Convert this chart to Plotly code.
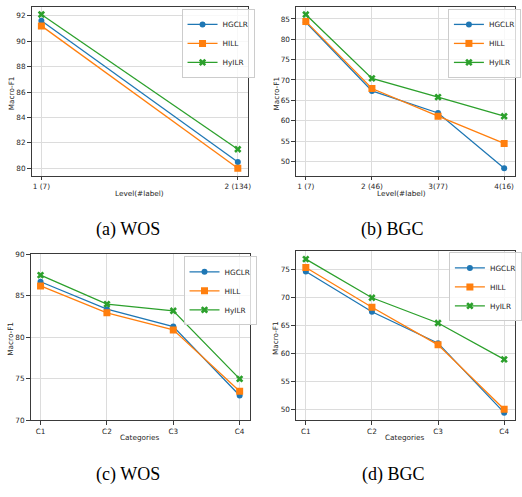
import plotly.graph_objects as go

W, H = 522, 497

# ---- data ----
levels_wos = ["1 (7)", "2 (134)"]
wos_hgclr = [91.6, 80.5]
wos_hill = [91.2, 80.0]
wos_hyilr = [92.1, 81.5]

levels_bgc = ["1 (7)", "2 (46)", "3(77)", "4(16)"]
bgc_hgclr = [84.2, 67.3, 61.9, 48.3]
bgc_hill = [84.4, 67.9, 61.1, 54.4]
bgc_hyilr = [86.1, 70.4, 65.8, 61.1]

cats = ["C1", "C2", "C3", "C4"]
cat_wos_hgclr = [86.7, 83.4, 81.3, 73.0]
cat_wos_hill = [86.2, 82.95, 80.9, 73.5]
cat_wos_hyilr = [87.5, 84.0, 83.2, 75.0]

cat_bgc_hgclr = [74.7, 67.5, 61.9, 49.5]
cat_bgc_hill = [75.4, 68.3, 61.6, 50.1]
cat_bgc_hyilr = [76.9, 70.0, 65.5, 59.0]

names = ["HGCLR", "HILL", "HyILR"]
colors = ["#1f77b4", "#ff7f0e", "#2ca02c"]
symbols = ["circle", "square", "x"]
msizes = [6, 7, 6.5]

panels = [
    dict(x=levels_wos, ys=[wos_hgclr, wos_hill, wos_hyilr], ax="", leg="legend"),
    dict(x=levels_bgc, ys=[bgc_hgclr, bgc_hill, bgc_hyilr], ax="2", leg="legend2"),
    dict(x=cats, ys=[cat_wos_hgclr, cat_wos_hill, cat_wos_hyilr], ax="3", leg="legend3"),
    dict(x=cats, ys=[cat_bgc_hgclr, cat_bgc_hill, cat_bgc_hyilr], ax="4", leg="legend4"),
]

fig = go.Figure()
for p in panels:
    for name, col, sym, ms, y in zip(names, colors, symbols, msizes, p["ys"]):
        fig.add_trace(go.Scatter(
            x=p["x"], y=y, name=name, mode="lines+markers",
            line=dict(color=col, width=1.3),
            marker=dict(symbol=sym, size=ms, color=col, line=dict(width=0)),
            xaxis="x" + p["ax"], yaxis="y" + p["ax"], legend=p["leg"],
        ))

def px_x(a, b):
    return [a / W, min(b / W, 1.0)]

def px_y(top, bottom):
    return [1 - bottom / H, 1 - top / H]

font = dict(family="DejaVu Sans", size=7.3, color="#262626")
common = dict(showline=True, linecolor="#3a3a3a", linewidth=1, mirror=True,
              ticks="outside", ticklen=3.5, tickwidth=1, tickcolor="#3a3a3a",
              showgrid=True, gridcolor="#dcdcdc", gridwidth=1, zeroline=False,
              tickfont=font)

layout = dict(
    width=W, height=H, margin=dict(l=0, r=0, t=0, b=0),
    paper_bgcolor="white", plot_bgcolor="white", font=font,
    xaxis=dict(domain=px_x(32, 251), anchor="y", type="category",
               range=[-0.05, 1.05], **common),
    yaxis=dict(domain=px_y(3, 175), anchor="x", range=[79.41, 92.69],
               tickvals=[80, 82, 84, 86, 88, 90, 92], **common),
    xaxis2=dict(domain=px_x(300, 522), anchor="y2", type="category",
                range=[-0.149, 3.164], **common),
    yaxis2=dict(domain=px_y(3, 175), anchor="x2", range=[46.45, 87.95],
                tickvals=[50, 55, 60, 65, 70, 75, 80, 85], **common),
    xaxis3=dict(domain=px_x(31, 253), anchor="y3", type="category",
                range=[-0.15, 3.15], **common),
    yaxis3=dict(domain=px_y(255, 424), anchor="x3", range=[70, 90],
                tickvals=[70, 75, 80, 85, 90], **common),
    xaxis4=dict(domain=px_x(300, 522), anchor="y4", type="category",
                range=[-0.149, 3.164], **common),
    yaxis4=dict(domain=px_y(252, 424), anchor="x4", range=[48.13, 78.27],
                tickvals=[50, 55, 60, 65, 70, 75], **common),
)

# legend boxes: left edge / top edge in pixels
legpos = {"legend": (184, 5), "legend2": (454, 5), "legend3": (186, 257), "legend4": (455, 253)}
for k, (lx, ly) in legpos.items():
    layout[k] = dict(x=lx / W, y=1 - ly / H, xanchor="left", yanchor="top",
                     bgcolor="rgba(255,255,255,0.8)", bordercolor="#cccccc",
                     borderwidth=1, font=font, itemwidth=30, tracegroupgap=0)

fig.update_layout(**layout)

ann = []
def txt(x, y, s, **kw):
    d = dict(x=x / W, y=1 - y / H, xref="paper", yref="paper", text=s,
             showarrow=False, xanchor="center", yanchor="middle", font=font)
    d.update(kw)
    ann.append(d)

# axis titles
txt(141, 193, "Level(#label)")
txt(11, 91, "Macro-F1", textangle=-90)
txt(407, 193, "Level(#label)")
txt(280, 91, "Macro-F1", textangle=-90)
txt(142, 442, "Categories")
txt(11, 341, "Macro-F1", textangle=-90)
txt(411, 442, "Categories")
txt(280, 340, "Macro-F1", textangle=-90)

cap = dict(family="Liberation Serif", size=18, color="black")
txt(130, 230, "(a) WOS", font=cap)
txt(398, 230, "(b) BGC", font=cap)
txt(130, 479, "(c) WOS", font=cap)
txt(399, 479, "(d) BGC", font=cap)

fig.update_layout(annotations=ann)
fig.write_html("out.html", config={"displayModeBar": False},
               post_script="document.body.style.margin='0';document.body.style.overflow='hidden';")
